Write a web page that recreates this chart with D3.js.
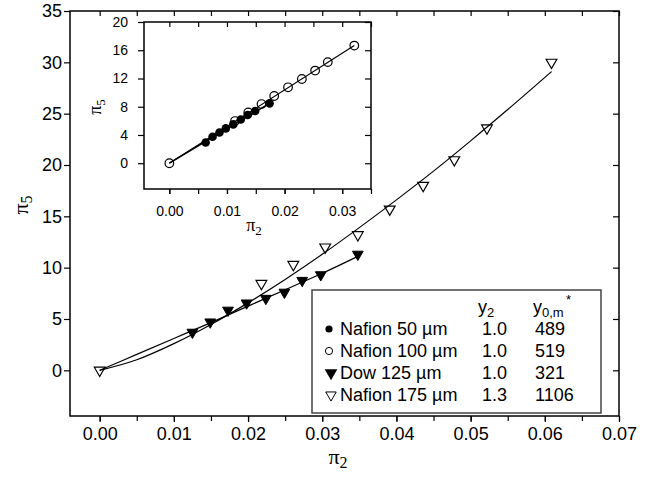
<!DOCTYPE html>
<html>
<head>
<meta charset="utf-8">
<script src="https://cdn.jsdelivr.net/npm/d3@7"></script>
<style>
  body { margin: 0; background: #fff; }
  svg { display: block; }
  .tick text { font-family: "Liberation Sans", Arial, sans-serif; fill: #000; }
  .domain { display: none; }
</style>
</head>
<body>
<svg id="chart" width="648" height="477"></svg>
<script>
// main plot data (pi2, pi5)
var n175x = [0, 0.0218, 0.0261, 0.0304, 0.0348, 0.0391, 0.0436, 0.0478, 0.0522, 0.0609];
var n175y = [0, 8.45, 10.3, 12.0, 13.2, 15.7, 18.0, 20.5, 23.6, 30.0];
var dowx = [0.0125, 0.0149, 0.0173, 0.0198, 0.0224, 0.0249, 0.0273, 0.0298, 0.0348];
var dowy = [3.7, 4.7, 5.85, 6.55, 7.0, 7.6, 8.75, 9.3, 11.3];

// fitted curves
var fit175x = [0, 0.005, 0.01, 0.015, 0.02, 0.025, 0.03, 0.035, 0.04, 0.045, 0.05, 0.055, 0.0609];
var fit175y = [0, 1.03, 2.6, 4.47, 6.57, 8.85, 11.3, 13.9, 16.6, 19.4, 22.35, 25.4, 29.1];
var fitDowx = [0, 0.005, 0.01, 0.015, 0.02, 0.025, 0.03, 0.0348];
var fitDowy = [0, 1.55, 3.1, 4.65, 6.25, 7.85, 9.45, 11.1];

// inset data
var n100x = [0, 0.0114, 0.0137, 0.0160, 0.0182, 0.0206, 0.0230, 0.0253, 0.0275, 0.0321];
var n100y = [0, 5.97, 7.2, 8.38, 9.52, 10.75, 11.93, 13.12, 14.32, 16.66];
var n50x = [0.0063, 0.0075, 0.0087, 0.0098, 0.0111, 0.0124, 0.0136, 0.0149, 0.0174];
var n50y = [2.94, 3.74, 4.36, 4.93, 5.5, 6.2, 6.82, 7.39, 8.48];

// legend table
var legNames = ["Nafion 50 \u00b5m", "Nafion 100 \u00b5m", "Dow 125 \u00b5m", "Nafion 175 \u00b5m"];
var legY2 = ["1.0", "1.0", "1.0", "1.3"];
var legY0 = ["489", "519", "321", "1106"];

var mainXTicks = [0, 0.01, 0.02, 0.03, 0.04, 0.05, 0.06, 0.07];
var mainYTicks = [0, 5, 10, 15, 20, 25, 30, 35];
var insetXTicks = [0, 0.01, 0.02, 0.03];
var insetYTicks = [0, 4, 8, 12, 16, 20];

function zip(xs, ys) { return xs.map(function(d, i) { return [d, ys[i]]; }); }

var svg = d3.select("#chart");
var font = '"Liberation Sans", Arial, sans-serif';
var serif = '"Liberation Serif", "Times New Roman", serif';

// ---- main plot ----
var L = 70, R = 619, T = 11, B = 416;
var x = d3.scaleLinear().domain([-0.004, 0.07]).range([L, R]);
var y = d3.scaleLinear().domain([-4.45, 35]).range([B, T]);

function halfSteps(lo, hi, step) {
  var out = [];
  for (var v = lo; v <= hi + 1e-9; v += step) out.push(+v.toFixed(4));
  return out;
}
var xMinor = halfSteps(0, 0.07, 0.005);

svg.append("g").attr("transform", "translate(0," + B + ")")
  .call(d3.axisBottom(x).tickValues(xMinor).tickSize(5).tickFormat(""));
svg.append("g").attr("transform", "translate(0," + B + ")")
  .call(d3.axisBottom(x).tickValues(mainXTicks).tickSize(6).tickPadding(5)
    .tickFormat(d3.format(".2f")))
  .selectAll("text").style("font-size", "18px");
svg.append("g").attr("transform", "translate(0," + T + ")")
  .call(d3.axisBottom(x).tickValues(xMinor).tickSize(5).tickFormat(""));
svg.append("g").attr("transform", "translate(" + L + ",0)")
  .call(d3.axisLeft(y).tickValues(mainYTicks).tickSize(6).tickPadding(2))
  .selectAll("text").style("font-size", "18px");
svg.append("g").attr("transform", "translate(" + R + ",0)")
  .call(d3.axisLeft(y).tickValues(mainYTicks).tickSize(6).tickFormat(""));
svg.selectAll(".tick line").attr("stroke", "#000").attr("stroke-width", 1.2);

svg.append("rect").attr("x", L).attr("y", T).attr("width", R - L).attr("height", B - T)
  .attr("fill", "none").attr("stroke", "#000").attr("stroke-width", 1.5);

var line = d3.line().curve(d3.curveMonotoneX)
  .x(function(d) { return x(d[0]); }).y(function(d) { return y(d[1]); });

svg.append("path").datum(zip(fit175x, fit175y)).attr("d", line)
  .attr("fill", "none").attr("stroke", "#000").attr("stroke-width", 1.2);
svg.append("path").datum(zip(fitDowx, fitDowy)).attr("d", line)
  .attr("fill", "none").attr("stroke", "#000").attr("stroke-width", 1.2);

var triDown = d3.symbol().type(d3.symbolTriangle).size(50);

svg.selectAll(".tri-open").data(zip(n175x, n175y)).enter().append("path")
  .attr("class", "tri-open")
  .attr("d", triDown)
  .attr("transform", function(d) { return "translate(" + x(d[0]) + "," + y(d[1]) + ") rotate(180)"; })
  .attr("fill", "none").attr("stroke", "#000").attr("stroke-width", 1.2);

svg.selectAll(".tri-fill").data(zip(dowx, dowy)).enter().append("path")
  .attr("class", "tri-fill")
  .attr("d", triDown)
  .attr("transform", function(d) { return "translate(" + x(d[0]) + "," + y(d[1]) + ") rotate(180)"; })
  .attr("fill", "#000").attr("stroke", "#000").attr("stroke-width", 1);

// axis titles
var xt = svg.append("text").attr("x", 338).attr("y", 464).attr("text-anchor", "middle")
  .style("font-family", serif).style("font-size", "22px");
xt.append("tspan").text("\u03c0");
xt.append("tspan").attr("dy", 4).style("font-size", "16px").text("2");

var yt = svg.append("text").attr("transform", "translate(28,205) rotate(-90)")
  .attr("text-anchor", "middle")
  .style("font-family", serif).style("font-size", "22px");
yt.append("tspan").text("\u03c0");
yt.append("tspan").attr("dy", 4).style("font-size", "16px").text("5");

// ---- legend ----
var lg = svg.append("g");
lg.append("rect").attr("x", 312).attr("y", 290).attr("width", 289).attr("height", 123)
  .attr("fill", "#fff").attr("stroke", "#444").attr("stroke-width", 1.5);

var hy = lg.append("text").attr("x", 478).attr("y", 313).style("font-family", font).style("font-size", "18px");
hy.append("tspan").text("y");
hy.append("tspan").attr("dy", 4).style("font-size", "13px").text("2");
var hy0 = lg.append("text").attr("x", 533).attr("y", 313).style("font-family", font).style("font-size", "18px");
hy0.append("tspan").text("y");
hy0.append("tspan").attr("dy", 4).style("font-size", "13px").text("0,m");
lg.append("text").attr("x", 566).attr("y", 304).style("font-family", font).style("font-size", "13px").text("*");

var rowY = [335, 357, 379, 401];
lg.selectAll(".lname").data(legNames).enter().append("text")
  .attr("x", 340).attr("y", function(d, i) { return rowY[i]; })
  .style("font-family", font).style("font-size", "18px").text(function(d) { return d; });
lg.selectAll(".ly2").data(legY2).enter().append("text")
  .attr("x", 482).attr("y", function(d, i) { return rowY[i]; })
  .style("font-family", font).style("font-size", "18px").text(function(d) { return d; });
lg.selectAll(".ly0").data(legY0).enter().append("text")
  .attr("x", 535).attr("y", function(d, i) { return rowY[i]; })
  .style("font-family", font).style("font-size", "18px").text(function(d) { return d; });

lg.append("circle").attr("cx", 329).attr("cy", rowY[0] - 6).attr("r", 3.6).attr("fill", "#000");
lg.append("circle").attr("cx", 329).attr("cy", rowY[1] - 6).attr("r", 3.6)
  .attr("fill", "none").attr("stroke", "#000").attr("stroke-width", 1);
lg.append("path").attr("d", d3.symbol().type(d3.symbolTriangle).size(70))
  .attr("transform", "translate(331," + (rowY[2] - 6) + ") rotate(180)").attr("fill", "#000");
lg.append("path").attr("d", d3.symbol().type(d3.symbolTriangle).size(48))
  .attr("transform", "translate(331," + (rowY[3] - 6) + ") rotate(180)")
  .attr("fill", "none").attr("stroke", "#000").attr("stroke-width", 1);

// ---- inset ----
var iL = 144, iR = 371, iT = 22, iB = 189;
var xi = d3.scaleLinear().domain([-0.0044, 0.035]).range([iL, iR]);
var yi = d3.scaleLinear().domain([-3.65, 20]).range([iB, iT]);
var ins = svg.append("g");
ins.append("rect").attr("x", iL).attr("y", iT).attr("width", iR - iL).attr("height", iB - iT)
  .attr("fill", "#fff");

var xiMinor = halfSteps(0, 0.035, 0.005);
ins.append("g").attr("transform", "translate(0," + iB + ")")
  .call(d3.axisBottom(xi).tickValues(xiMinor).tickSize(5).tickFormat(""));
ins.append("g").attr("transform", "translate(0," + iB + ")")
  .call(d3.axisBottom(xi).tickValues(insetXTicks).tickSize(5).tickPadding(12)
    .tickFormat(d3.format(".2f")))
  .selectAll("text").style("font-size", "14px");
ins.append("g").attr("transform", "translate(0," + iT + ")")
  .call(d3.axisBottom(xi).tickValues(xiMinor).tickSize(5).tickFormat(""));
ins.append("g").attr("transform", "translate(" + iL + ",0)")
  .call(d3.axisLeft(yi).tickValues(insetYTicks).tickSize(6).tickPadding(10))
  .selectAll("text").style("font-size", "14px");
ins.append("g").attr("transform", "translate(" + iR + ",0)")
  .call(d3.axisLeft(yi).tickValues(insetYTicks).tickSize(6).tickFormat(""));
ins.selectAll(".tick line").attr("stroke", "#000").attr("stroke-width", 1.2);
ins.append("rect").attr("x", iL).attr("y", iT).attr("width", iR - iL).attr("height", iB - iT)
  .attr("fill", "none").attr("stroke", "#000").attr("stroke-width", 1.5);

var iline = d3.line().x(function(d) { return xi(d[0]); }).y(function(d) { return yi(d[1]); });
ins.append("path").datum([[0, 0], [n100x[n100x.length - 1], n100y[n100y.length - 1]]])
  .attr("d", iline).attr("fill", "none").attr("stroke", "#000").attr("stroke-width", 1.2);
ins.append("path").datum([[0, 0], [n50x[n50x.length - 1], n50y[n50y.length - 1]]])
  .attr("d", iline).attr("fill", "none").attr("stroke", "#000").attr("stroke-width", 1.5);

ins.selectAll(".c-open").data(zip(n100x, n100y)).enter().append("circle")
  .attr("cx", function(d) { return xi(d[0]); }).attr("cy", function(d) { return yi(d[1]); })
  .attr("r", 4.3).attr("fill", "none").attr("stroke", "#000").attr("stroke-width", 1.2);
ins.selectAll(".c-fill").data(zip(n50x, n50y)).enter().append("circle")
  .attr("cx", function(d) { return xi(d[0]); }).attr("cy", function(d) { return yi(d[1]); })
  .attr("r", 4.3).attr("fill", "#000");

var ixt = ins.append("text").attr("x", 254).attr("y", 231).attr("text-anchor", "middle")
  .style("font-family", serif).style("font-size", "18px");
ixt.append("tspan").text("\u03c0");
ixt.append("tspan").attr("dy", 4).style("font-size", "13px").text("2");
var iyt = ins.append("text").attr("transform", "translate(101,107) rotate(-90)")
  .attr("text-anchor", "middle")
  .style("font-family", serif).style("font-size", "18px");
iyt.append("tspan").text("\u03c0");
iyt.append("tspan").attr("dy", 4).style("font-size", "13px").text("5");
</script>
</body>
</html>
